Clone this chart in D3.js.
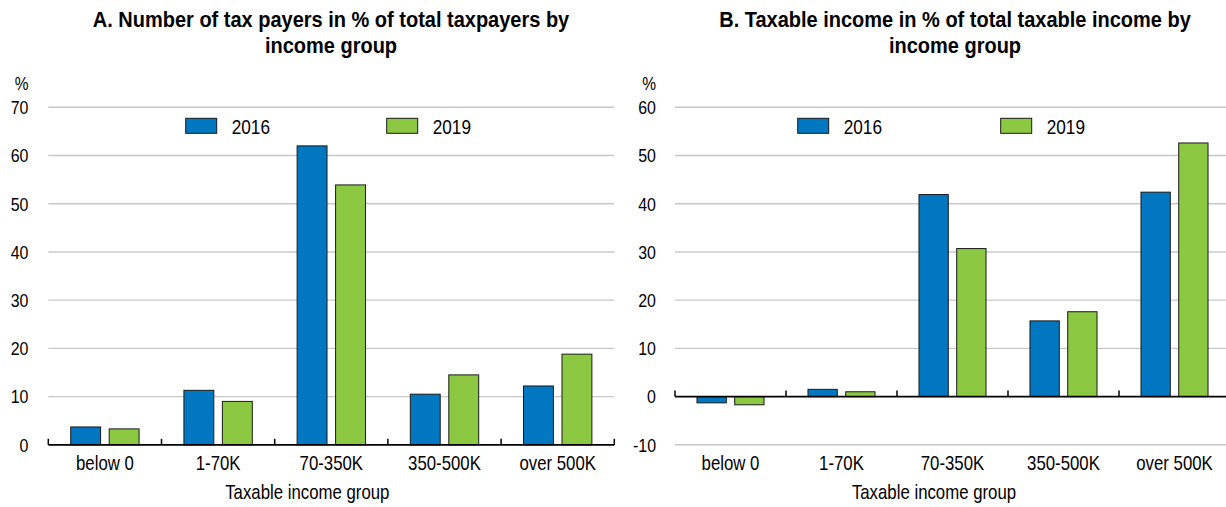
<!DOCTYPE html>
<html>
<head>
<meta charset="utf-8">
<script src="https://cdn.jsdelivr.net/npm/d3@7"></script>
<style>
  html, body { margin: 0; padding: 0; background: #fff; }
  svg { display: block; }
  text { font-family: "Liberation Sans Narrow", "Arial Narrow", "Liberation Sans", Arial, sans-serif; fill: #000; }
</style>
</head>
<body>
<svg id="chart" width="1226" height="507"></svg>
<script>
// ---- Data ----
const categories = ["below 0", "1-70K", "70-350K", "350-500K", "over 500K"];
const seriesNames = ["2016", "2019"];
const taxpayers2016 = [3.7, 11.3, 62.0, 10.5, 12.2];
const taxpayers2019 = [3.3, 9.0, 53.9, 14.5, 18.8];
const income2016 = [-1.3, 1.5, 41.9, 15.7, 42.4];
const income2019 = [-1.7, 1.0, 30.7, 17.6, 52.6];
const ticksA = [0, 10, 20, 30, 40, 50, 60, 70];
const ticksB = [-10, 0, 10, 20, 30, 40, 50, 60];
const titleA = ["A. Number of tax payers in % of total taxpayers by", "income group"];
const titleB = ["B. Taxable income in % of total taxable income by", "income group"];
const xAxisTitle = "Taxable income group";
const colors = ["#0077C0", "#8CC841"];

// ---- Layout ----
const SX = 0.84;      // horizontal condensing to mimic a narrow typeface
const SX_TITLE = 0.93;
const panels = [
  { title: titleA, values: [taxpayers2016, taxpayers2019], ticks: ticksA, domain: [0, 70],
    left: 48.3, right: 614.3, labelRight: 28.5, legendX: [185.7, 386.7], titleX: 331 },
  { title: titleB, values: [income2016, income2019], ticks: ticksB, domain: [-10, 60],
    left: 675, right: 1230, labelRight: 656, legendX: [797.7, 1000.7], titleX: 955 }
];
const plotTop = 107.3, plotBottom = 444.8;

const svg = d3.select("#chart");

function txt(g, x, y, s, size, anchor, bold, sx) {
  return g.append("text")
    .attr("transform", `translate(${x},${y}) scale(${sx || SX},1)`)
    .attr("text-anchor", anchor || "start")
    .style("font-size", size + "px")
    .style("font-weight", bold ? "bold" : "normal")
    .text(s);
}

panels.forEach(p => {
  const g = svg.append("g");
  const y = d3.scaleLinear().domain(p.domain).range([plotBottom, plotTop]);
  const x0 = d3.scaleBand().domain(categories).range([p.left, p.right]).padding(0);
  const bw = x0.bandwidth();
  const x1 = d3.scaleBand().domain(seriesNames).range([0.198 * bw, 0.802 * bw]).paddingInner(0.223).paddingOuter(0);

  // title
  p.title.forEach((line, i) => txt(g, p.titleX, 26.7 + i * 26.5, line, 21.5, "middle", true, SX_TITLE));

  // gridlines
  g.append("g").selectAll("line").data(p.ticks.filter(d => d !== 0)).join("line")
    .attr("x1", p.left).attr("x2", p.right)
    .attr("y1", d => y(d)).attr("y2", d => y(d))
    .attr("stroke", "#c8c8c8").attr("stroke-width", 1.4);

  // y tick labels
  p.ticks.forEach(d => txt(g, p.labelRight, y(d) + 6.9, d, 19, "end"));

  // % unit
  txt(g, p.labelRight, 89.8, "%", 18.5, "end");

  // bars
  seriesNames.forEach((s, si) => {
    g.append("g").selectAll("rect").data(p.values[si]).join("rect")
      .attr("x", (d, i) => x0(categories[i]) + x1(s))
      .attr("width", x1.bandwidth())
      .attr("y", d => y(Math.max(0, d)))
      .attr("height", d => Math.abs(y(d) - y(0)))
      .attr("fill", colors[si]).attr("stroke", "#1a1a1a").attr("stroke-width", 1);
  });

  // zero axis line + ticks
  g.append("line").attr("x1", p.left).attr("x2", p.right).attr("y1", y(0)).attr("y2", y(0))
    .attr("stroke", "#000").attr("stroke-width", 1.8);
  const bounds = categories.map(c => x0(c)).concat([p.right]);
  g.append("g").selectAll("line").data(bounds).join("line")
    .attr("x1", d => d).attr("x2", d => d).attr("y1", y(0)).attr("y2", y(0) - 6)
    .attr("stroke", "#000").attr("stroke-width", 1.5);

  // category labels
  categories.forEach(c => txt(g, x0(c) + bw / 2, 469.5, c, 20, "middle"));

  // x axis title
  txt(g, p.left + 259, 498.5, xAxisTitle, 20, "middle");

  // legend
  seriesNames.forEach((s, si) => {
    g.append("rect").attr("x", p.legendX[si]).attr("y", 118.3).attr("width", 31).attr("height", 15)
      .attr("fill", colors[si]).attr("stroke", "#1a1a1a").attr("stroke-width", 1);
    txt(g, p.legendX[si] + 46, 133.8, s, 20.5, "start");
  });
});
</script>
</body>
</html>
